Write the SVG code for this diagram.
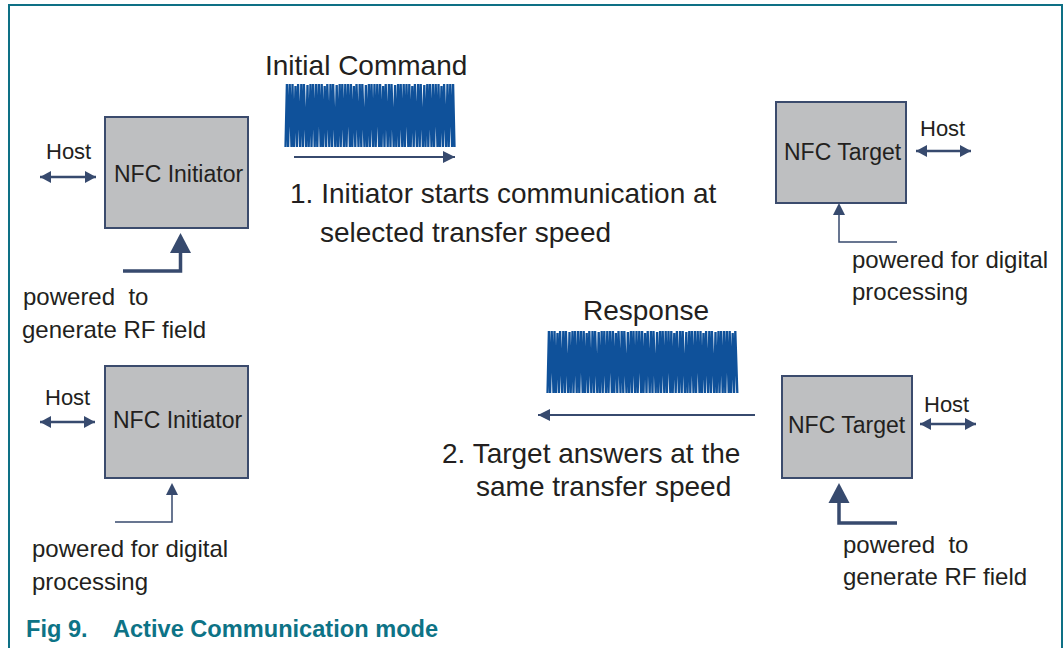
<svg xmlns="http://www.w3.org/2000/svg" width="1064" height="648" viewBox="0 0 1064 648">
<style>
.box{fill:#BEBFC1;stroke:#3B4B6D;stroke-width:2}
.t{font-family:"Liberation Sans",Arial,sans-serif;fill:#231F20}
.big{font-size:28px}
.nfc{font-size:23px}
.host{font-size:22px}
.pw{font-size:24px}
.ln{fill:none;stroke:#374A6E}
.wave{fill:none;stroke:#0F519A;stroke-width:2.3;stroke-linejoin:bevel}
.cap{font-family:"Liberation Sans",Arial,sans-serif;font-weight:bold;font-size:23.6px;fill:#0D7386}
</style>
<defs>
<marker id="hs" viewBox="0 0 11 12" refX="11" refY="6" markerWidth="11" markerHeight="12" markerUnits="userSpaceOnUse" orient="auto-start-reverse">
<path d="M0,0 L11,6 L0,12 Z" fill="#374A6E"/>
</marker>
<marker id="hm" viewBox="0 0 12 12" refX="12" refY="6" markerWidth="12" markerHeight="12" markerUnits="userSpaceOnUse" orient="auto">
<path d="M0,0 L12,6 L0,12 Z" fill="#374A6E"/>
</marker>
</defs>
<rect width="1064" height="648" fill="#FFFFFF"/>
<path d="M9,648 V5 H1062 V648" fill="none" stroke="#0E7085" stroke-width="2"/>

<g id="initiator-1">
<rect class="box" x="105" y="117" width="143" height="111"/>
<text class="t nfc" x="114" y="182">NFC Initiator</text>
</g>
<g id="initiator-2">
<rect class="box" x="105" y="366" width="143" height="112"/>
<text class="t nfc" x="113" y="428">NFC Initiator</text>
</g>
<g id="target-1">
<rect class="box" x="776" y="102" width="130" height="101"/>
<text class="t nfc" x="784" y="160">NFC Target</text>
</g>
<g id="target-2">
<rect class="box" x="782" y="376" width="130" height="102"/>
<text class="t nfc" x="788" y="433">NFC Target</text>
</g>

<g id="labels">
<text class="t host" x="46" y="159">Host</text>
<text class="t host" x="45" y="405">Host</text>
<text class="t host" x="920" y="136">Host</text>
<text class="t host" x="924" y="412">Host</text>
<text class="t pw" x="23" y="305" xml:space="preserve">powered  to</text>
<text class="t pw" x="22" y="338">generate RF field</text>
<text class="t pw" x="32" y="557">powered for digital</text>
<text class="t pw" x="32" y="590">processing</text>
<text class="t pw" x="852" y="268">powered for digital</text>
<text class="t pw" x="852" y="300">processing</text>
<text class="t pw" x="843" y="553" xml:space="preserve">powered  to</text>
<text class="t pw" x="843" y="585">generate RF field</text>
<text class="t big" x="265" y="75">Initial Command</text>
<text class="t big" x="290" y="203">1. Initiator starts communication at</text>
<text class="t big" x="320" y="242">selected transfer speed</text>
<text class="t big" x="583" y="320">Response</text>
<text class="t big" x="442" y="463">2. Target answers at the</text>
<text class="t big" x="476" y="496">same transfer speed</text>
</g>

<g id="waves">
<path class="wave" d="M285.5,147 l1.4,-63 l1.2,63 l1.6,-63 l1.8,63 l1,-63 l1.4,63 l1.6,-61 l1.4,61 l1.2,-63 l2,63 l1.2,-63 l1.6,63 l1,-63 l2.2,63 l1.4,-62 l1.2,62 l1.8,-63 l1,63 l1.6,-63 l1.6,63 l1.4,-63 l1.2,63 l1.6,-63 l1.8,63 l1,-63 l1.4,63 l1.6,-61 l1.4,61 l1.2,-63 l2,63 l1.2,-63 l1.6,63 l1,-63 l2.2,63 l1.4,-62 l1.2,62 l1.8,-63 l1,63 l1.6,-63 l1.6,63 l1.4,-63 l1.2,63 l1.6,-63 l1.8,63 l1,-63 l1.4,63 l1.6,-61 l1.4,61 l1.2,-63 l2,63 l1.2,-63 l1.6,63 l1,-63 l2.2,63 l1.4,-62 l1.2,62 l1.8,-63 l1,63 l1.6,-63 l1.6,63 l1.4,-63 l1.2,63 l1.6,-63 l1.8,63 l1,-63 l1.4,63 l1.6,-61 l1.4,61 l1.2,-63 l2,63 l1.2,-63 l1.6,63 l1,-63 l2.2,63 l1.4,-62 l1.2,62 l1.8,-63 l1,63 l1.6,-63 l1.6,63 l1.4,-63 l1.2,63 l1.6,-63 l1.8,63 l1,-63 l1.4,63 l1.6,-61 l1.4,61 l1.2,-63 l2,63 l1.2,-63 l1.6,63 l1,-63 l2.2,63 l1.4,-62 l1.2,62 l1.8,-63 l1,63 l1.6,-63 l1.6,63 l1.4,-63 l1.2,63 l1.6,-63 l1.8,63 l1,-63 l1.4,63 l1.6,-61 l1.4,61 l1.2,-63 l2,63 l1.4,-63 l1.2,63 l1.6,-63 l1.8,63 l1,-63 l1.4,63"/>
<path class="wave" d="M547.5,393 l1.4,-62 l1.2,62 l1.6,-62 l1.8,62 l1,-62 l1.4,62 l1.6,-60 l1.4,60 l1.2,-62 l2,62 l1.2,-62 l1.6,62 l1,-62 l2.2,62 l1.4,-61 l1.2,61 l1.8,-62 l1,62 l1.6,-62 l1.6,62 l1.4,-62 l1.2,62 l1.6,-62 l1.8,62 l1,-62 l1.4,62 l1.6,-60 l1.4,60 l1.2,-62 l2,62 l1.2,-62 l1.6,62 l1,-62 l2.2,62 l1.4,-61 l1.2,61 l1.8,-62 l1,62 l1.6,-62 l1.6,62 l1.4,-62 l1.2,62 l1.6,-62 l1.8,62 l1,-62 l1.4,62 l1.6,-60 l1.4,60 l1.2,-62 l2,62 l1.2,-62 l1.6,62 l1,-62 l2.2,62 l1.4,-61 l1.2,61 l1.8,-62 l1,62 l1.6,-62 l1.6,62 l1.4,-62 l1.2,62 l1.6,-62 l1.8,62 l1,-62 l1.4,62 l1.6,-60 l1.4,60 l1.2,-62 l2,62 l1.2,-62 l1.6,62 l1,-62 l2.2,62 l1.4,-61 l1.2,61 l1.8,-62 l1,62 l1.6,-62 l1.6,62 l1.4,-62 l1.2,62 l1.6,-62 l1.8,62 l1,-62 l1.4,62 l1.6,-60 l1.4,60 l1.2,-62 l2,62 l1.2,-62 l1.6,62 l1,-62 l2.2,62 l1.4,-61 l1.2,61 l1.8,-62 l1,62 l1.6,-62 l1.6,62 l1.4,-62 l1.2,62 l1.6,-62 l1.8,62 l1,-62 l1.4,62 l1.6,-60 l1.4,60 l1.2,-62 l2,62 l1.2,-62 l1.6,62 l1,-62 l2.2,62 l1.4,-61 l1.2,61 l1.8,-62 l1,62 l1.6,-62 l1.6,62 l1.4,-62 l1.2,62 l1.6,-62 l1.8,62 l1,-62 l1.4,62 l1.6,-60 l1.4,60 l1.2,-62 l2,62"/>
</g>

<g id="connectors">
<line class="ln" x1="40" y1="177" x2="96" y2="177" stroke-width="2.5" marker-start="url(#hs)" marker-end="url(#hs)"/>
<line class="ln" x1="40" y1="422" x2="95" y2="422" stroke-width="2.5" marker-start="url(#hs)" marker-end="url(#hs)"/>
<line class="ln" x1="916" y1="151" x2="971" y2="151" stroke-width="2.5" marker-start="url(#hs)" marker-end="url(#hs)"/>
<line class="ln" x1="920" y1="424" x2="976" y2="424" stroke-width="2.5" marker-start="url(#hs)" marker-end="url(#hs)"/>
<line class="ln" x1="294" y1="157" x2="455" y2="157" stroke-width="2" marker-end="url(#hm)"/>
<line class="ln" x1="755" y1="415" x2="538" y2="415" stroke-width="2" marker-end="url(#hm)"/>
<path class="ln" d="M123,271 H180.5 V252" stroke-width="3.5"/>
<path d="M180.5,233 L191,253 L170,253 Z" fill="#374A6E"/>
<path class="ln" d="M115,522 H172 V494" stroke-width="1.5"/>
<path d="M172,483 L178,495 L166,495 Z" fill="#374A6E"/>
<path class="ln" d="M897,242 H839 V213" stroke-width="1.5"/>
<path d="M839,203 L845,215 L833,215 Z" fill="#374A6E"/>
<path class="ln" d="M897,523 H839 V502" stroke-width="3.5"/>
<path d="M839,483 L849.5,503 L828.5,503 Z" fill="#374A6E"/>
</g>

<text class="cap" x="26" y="637" xml:space="preserve">Fig 9.    Active Communication mode</text>
</svg>
